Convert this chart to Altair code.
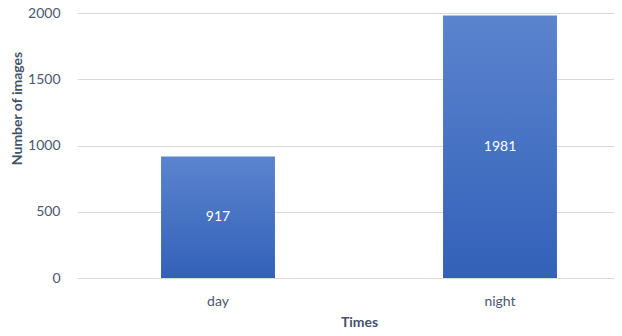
import altair as alt
import pandas as pd

times = ["day", "night"]
counts = [917, 1981]

df = pd.DataFrame({"Times": times, "count": counts})
df["mid"] = df["count"] / 2

FONT = "Lato"
TXT = "#44546A"
LBL = "#4A5870"

x_enc = alt.X(
    "Times:N",
    sort=times,
    scale=alt.Scale(range=[0, 564], paddingInner=0.596, paddingOuter=0.298),
    axis=alt.Axis(
        title="Times", labelAngle=0, ticks=False, domain=False,
        labelPadding=16, labelFontSize=14, labelColor=LBL, labelFont=FONT,
        titleFontSize=14, titleFont=FONT, titleFontWeight="bold", titleColor=TXT,
        titleX=282, titleY=48, titleBaseline="alphabetic", titleAnchor="middle",
    ),
)

grad = alt.Gradient(
    gradient="linear",
    stops=[alt.GradientStop(color="#5B84CE", offset=0),
           alt.GradientStop(color="#3361B9", offset=1)],
    x1=0, x2=0, y1=0, y2=1,
)

bars = alt.Chart(df).mark_bar(color=grad).encode(
    x=x_enc,
    y=alt.Y(
        "count:Q",
        scale=alt.Scale(domain=[0, 2000], nice=False),
        axis=alt.Axis(
            title="Number of images", values=[0, 500, 1000, 1500, 2000], format="d",
            ticks=False, domain=False, grid=True, gridColor="#D9D9D9",
            labelPadding=17, labelFontSize=14, labelColor=LBL, labelFont=FONT,
            titleFontSize=14, titleFont=FONT, titleFontWeight="bold", titleColor=TXT,
            titleX=-53, titleY=95, titleBaseline="bottom", titleAngle=-90,
        ),
    ),
)

labels = alt.Chart(df).mark_text(
    color="white", fontSize=14, font=FONT, baseline="middle"
).encode(
    x=alt.X("Times:N", sort=times),
    y=alt.Y("mid:Q"),
    text=alt.Text("count:Q"),
)

chart = (bars + labels).properties(
    width=537, height=265,
    autosize=alt.AutoSizeParams(type="none"),
    padding={"left": 69, "top": 5, "right": 0, "bottom": 50},
).configure_view(stroke=None)

chart.save("out.html", embed_options={"renderer": "svg", "actions": False})
